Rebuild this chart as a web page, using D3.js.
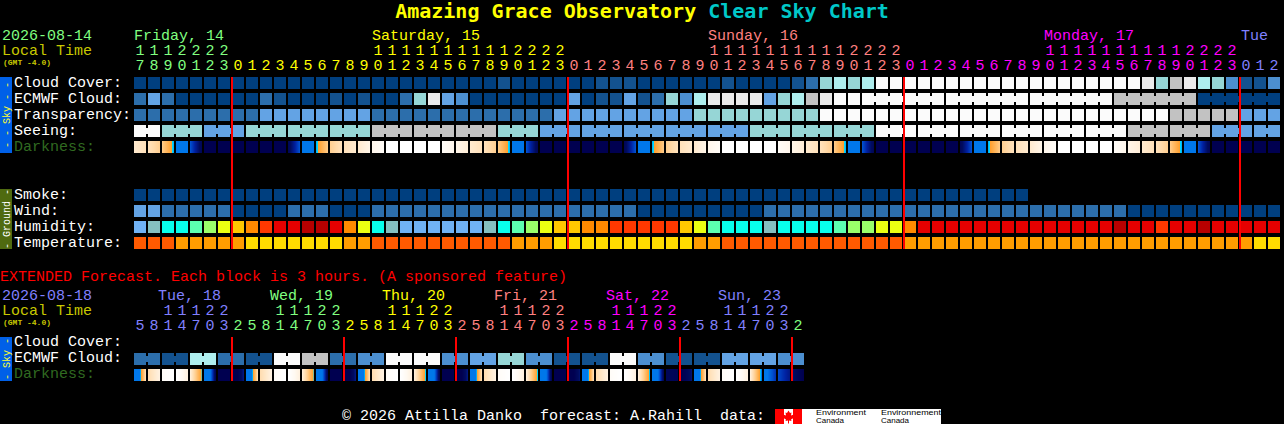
<!DOCTYPE html>
<html>
<head>
<meta charset="utf-8">
<script src="https://cdn.jsdelivr.net/npm/d3@7/dist/d3.min.js"></script>
<style>
html,body{margin:0;padding:0;background:#000;overflow:hidden}
svg{display:block}
text{font-family:"Liberation Mono",monospace;font-size:15px;white-space:pre}
</style>
</head>
<body>
<svg id="chart" width="1284" height="424"></svg>
<script>
// ---- DATA ----
const hourLabels = [17,18,19,20,21,22,23,0,1,2,3,4,5,6,7,8,9,10,11,12,13,14,15,16,17,18,19,20,21,22,23,0,1,2,3,4,5,6,7,8,9,10,11,12,13,14,15,16,17,18,19,20,21,22,23,0,1,2,3,4,5,6,7,8,9,10,11,12,13,14,15,16,17,18,19,20,21,22,23,0,1,2];
const dayLabels = ["Friday, 14","Saturday, 15","Sunday, 16","Monday, 17","Tue"];
const dayLabelCols = [0,17,41,65,79];
const dayStartCols = [0,7,31,55,79];
const dayInks = ["green","yellow","salmon","magenta","violet"];

const rowLabels = ["Cloud Cover:","ECMWF Cloud:","Transparency:","Seeing:","Darkness:"];
const groundLabels = ["Smoke:","Wind:","Humidity:","Temperature:"];

// sky condition class, 0 (best) .. 9 (worst)
const cloudCover = [0,0,0,0,0,0,0,0,0,0,0,0,0,0,0,0,0,0,0,0,0,0,0,0,0,0,1,0,0,0,0,0,0,1,1,1,0,0,0,0,0,0,1,0,0,0,0,1,2,5,6,5,6,9,9,9,9,9,9,9,9,9,9,9,9,9,9,9,9,9,9,9,8,5,7,8,6,5,3,1,1,3];
const ecmwfCloud = [2,4,2,0,0,0,0,0,0,2,1,0,0,0,1,0,1,0,0,2,5,8,4,3,0,0,0,0,0,0,0,4,0,1,1,4,1,2,5,3,6,8,8,8,8,4,5,6,7,8,9,9,9,9,9,9,9,9,9,9,9,9,9,9,9,9,9,9,9,9,7,7,7,7,7,7,0,0,0,0,0,0];
const ecmwfBlockLinks = [52,53,54,55,56,58,59,60,61,62,64,65,66,67,68,70,71,72,73,74,76,77,78,79,80];
const transparency = [2,2,2,2,2,2,2,2,2,4,4,4,4,4,4,4,4,2,2,2,2,2,2,2,2,2,2,2,2,2,4,4,4,4,4,4,4,4,4,4,5,5,5,5,5,5,5,5,5,9,9,9,9,9,9,9,9,9,9,9,9,9,9,9,9,9,9,9,9,9,9,9,9,9,7,7,7,7,7,4,4,4];
const seeingGroupSizes = [2,3,3,3,3,3,3,3,3,3,3,3,3,3,3,3,3,3,3,3,3,3,3,3,3,3,3,2];
const seeingGroupValues = [9,5,4,5,5,5,7,7,7,5,4,4,4,4,4,5,5,5,9,9,9,9,9,9,7,7,4,4];

// darkness: start and end of each block, 0 daylight .. 10 full dark
const darkStart = [1.2,1.6,2.6,5.2,7,10,10,10,10,10,10,9.5,6,4.8,2.4,1.6,1.2,0.5,0,0,0,0,0.2,0.6,1.2,1.6,2.6,5.2,7,10,10,10,10,10,10,9.5,6,4.8,2.4,1.6,1.2,0.5,0,0,0,0,0.2,0.6,1.2,1.6,2.6,5.2,7,10,10,10,10,10,10,9.5,6,4.8,2.4,1.6,1.2,0.5,0,0,0,0,0.2,0.6,1.2,1.6,2.6,5.2,7,10,10,10,10,10];
const darkEnd   = [1.6,2.4,4.8,6,9.5,10,10,10,10,10,10,7,5.2,2.6,1.6,1.2,0.6,0.2,0,0,0,0,0.5,1,1.6,2.4,4.8,6,9.5,10,10,10,10,10,10,7,5.2,2.6,1.6,1.2,0.6,0.2,0,0,0,0,0.5,1,1.6,2.4,4.8,6,9.5,10,10,10,10,10,10,7,5.2,2.6,1.6,1.2,0.6,0.2,0,0,0,0,0.5,1,1.6,2.4,4.8,6,9.5,10,10,10,10,10];

const smoke = [0,0,0,0,0,0,0,0,0,0,0,0,0,0,0,0,0,0,0,0,0,0,0,0,0,0,0,0,0,0,0,0,0,0,0,0,0,0,0,0,0,0,0,0,0,0,0,0,0,0,0,0,0,0,0,0,0,0,0,0,0,0,0,0];
const wind = [4,4,2,2,2,2,2,0,0,0,0,2,2,2,0,0,0,2,2,2,2,2,2,2,2,2,2,2,2,2,2,2,2,2,2,2,0,0,0,0,0,0,0,0,0,2,2,2,2,2,2,2,2,2,2,2,2,2,2,2,2,2,2,2,2,2,2,2,2,2,2,0,0,0,0,0,0,0,0,0,0,0];
const humidity = [0,1,2,2,3,4,5,6,7,8,9,9,10,10,9,7,5,2,1,0,0,0,0,0,0,1,2,3,4,5,6,6,7,7,8,8,8,8,8,6,5,3,2,2,2,1,2,2,2,2,3,4,4,5,5,7,9,9,9,9,9,9,9,9,9,9,9,9,9,9,10,9,9,8,9,9,10,9,9,9,9,9];
const temperature = [0,0,0,1,1,1,1,1,2,2,2,2,2,2,2,1,1,0,0,0,0,0,0,0,0,0,0,1,1,1,2,2,2,2,2,2,2,2,2,2,1,1,0,0,0,0,0,0,0,0,0,0,0,0,0,1,1,1,1,1,1,1,1,1,1,1,1,1,1,1,1,1,1,1,1,1,1,1,1,1,2,2];

// extended forecast
const extDate = "2026-08-18";
const extHours = [5,8,11,14,17,20,23,2,5,8,11,14,17,20,23,2,5,8,11,14,17,20,23,2,5,8,11,14,17,20,23,2,5,8,11,14,17,20,23,2,5,8,11,14,17,20,23,2];
const extDays = ["Tue, 18","Wed, 19","Thu, 20","Fri, 21","Sat, 22","Sun, 23"];
const extDayCols = [2,10,18,26,34,42];
const extDayStarts = [0,7,15,23,31,39,47];
const extDayInks = ["violet","green","yellow","salmon","magenta","violet","green"];
const extRedCols = [7,15,23,31,39,47];
const extRows = ["Cloud Cover:","ECMWF Cloud:","Darkness:"];
const extEcmwfPairs = [2,1,6,2,1,9,7,2,3,9,9,3,4,5,3,1,1,9,3,1,1,4,4,3];
const extDarkStart = [6,1.8,0.2,0,1,6,10,10,6,1.8,0.2,0,1,6,10,10,6,1.8,0.2,0,1,6,10,10,6,1.8,0.2,0,1,6,10,10,6,1.8,0.2,0,1,6,9.5,10,6,1.8,0.2,0,1,5.4,7.2,8.8];
const extDarkMid   = [5.2,1.3,0.1,0.3,2.6,5.8,10,10,5.2,1.3,0.1,0.3,2.6,5.8,10,10,5.2,1.3,0.1,0.3,2.6,5.8,10,10,5.2,1.3,0.1,0.3,2.6,5.8,10,10,5.2,1.3,0.1,0.3,2.6,6,9.5,9.6,5.2,1.3,0.1,0.3,2.8,6.5,7.8,9.5];
const extDarkEnd   = [1.8,0.8,0,0.8,4.5,9.6,10,8.5,1.8,0.8,0,0.8,4.5,9.6,10,8.5,1.8,0.8,0,0.8,4.6,9.6,10,8.5,1.8,0.8,0,0.8,4.6,9.6,10,8.8,1.8,0.8,0,0.8,4.7,9.4,9.6,8.8,1.8,0.8,0,0.8,5.2,7.6,8.4,10];

// ---- SCALES ----
const colStep = 14, blockW = 12, blockH = 12;
const svg = d3.select("#chart");
const x = d3.scaleLinear().domain([0,82]).range([134,134+82*colStep]);
const y = d3.scaleLinear().domain([0,10]).range([77,237]);
const yExt = d3.scaleLinear().domain([0,2]).range([337,369]);
const skyColor = d3.scaleOrdinal().domain(d3.range(10)).range(["#003f7f","#13528f","#2c6eab","#4c8fd0","#63a3e4","#96d6d6","#aeeeee","#c2c2c2","#eaeaea","#fbfbfb"]);
const humColor = d3.scaleOrdinal().domain(d3.range(11)).range(["#70b2f4","#85c0c0","#08ffec","#5cffb0","#9aff6a","#ebff12","#ffc800","#ff8a00","#ff3800","#e60000","#b80000"]);
const tempColor = d3.scaleOrdinal().domain([0,1,2]).range(["#ff5a00","#ff9d00","#ffdc00"]);
const darkColor = d3.scaleLinear()
  .domain([0,1,2,3,4.4,4.6,5.2,6,7,8,9,10])
  .range(["#ffffff","#ffeed8","#ffd9a8","#ffc070","#ffa030","#00d8ff","#0077ea","#0077ea","#0050d0","#0020a0","#000c60","#000050"])
  .clamp(true);
const inkColor = d3.scaleOrdinal()
  .domain(["green","yellow","salmon","magenta","violet"])
  .range(["#80ff80","#ffff00","#ff8080","#ff00ff","#8080ff"]);
const colInk = (starts,inks,i) => inks[d3.bisectRight(starts,i)-1];

const expand = (sizes,vals) => sizes.flatMap((n,k)=>d3.range(n).map(()=>vals[k]));
const seeing = expand(seeingGroupSizes,seeingGroupValues);
const seeingLinks = Array.from(d3.cumsum(seeingGroupSizes)).reduce((acc,end,k)=>{
  d3.range(end-seeingGroupSizes[k],end-1).forEach(i=>acc.push(i)); return acc;},[]);

// ---- DRAW HELPERS ----
function blocks(values,row,color,g=svg,sx=x,sy=y){
  g.append("g").selectAll("rect").data(values).join("rect")
    .attr("x",(d,i)=>sx(i)).attr("y",sy(row)).attr("width",blockW).attr("height",blockH)
    .attr("fill",d=>color(d));
}
function links(cols,values,row,color,sx=x,sy=y){
  svg.append("g").selectAll("rect").data(cols).join("rect")
    .attr("x",i=>sx(i)+blockW).attr("y",sy(row)+3).attr("width",colStep-blockW).attr("height",6)
    .attr("fill",i=>color(values[i]));
}
function dark(starts,mids,ends,row,sx=x,sy=y){
  const g = svg.append("g");
  starts.forEach((s,i)=>{
    const t = d3.scaleLinear().domain([0,(blockW-1)/2,blockW-1]).range([s,mids[i],ends[i]]);
    g.append("g").selectAll("rect").data(d3.range(blockW)).join("rect")
      .attr("x",p=>sx(i)+p).attr("y",sy(row)).attr("width",1).attr("height",blockH)
      .attr("fill",p=>darkColor(t(p)));
  });
}
function label(txt,px,py,fill){
  return svg.append("text").attr("x",px).attr("y",py).attr("fill",fill).text(txt);
}
function sideBar(top,height,color,txt,txtColor){
  svg.append("rect").attr("x",0).attr("y",top).attr("width",12).attr("height",height).attr("fill",color);
  svg.append("text").attr("transform",`translate(9.5,${top+height/2}) rotate(-90)`)
    .attr("text-anchor","middle").attr("fill",txtColor).style("font-size","10px").text(txt);
}
function digits(hours,sx,baseTens,baseUnits,starts,inks){
  const col = i => inkColor(colInk(starts,inks,i));
  svg.append("g").selectAll("text").data(hours).join("text")
    .attr("x",(d,i)=>sx(i)+blockW/2).attr("y",baseUnits).attr("text-anchor","middle")
    .attr("fill",(d,i)=>col(i)).text(d=>d%10);
  svg.append("g").selectAll("text").data(hours.map((h,i)=>({h,i})).filter(d=>d.h>=10)).join("text")
    .attr("x",d=>sx(d.i)+blockW/2).attr("y",baseTens).attr("text-anchor","middle")
    .attr("fill",d=>col(d.i)).text(d=>Math.floor(d.h/10));
}

// ---- TITLE ----
const title = svg.append("text").attr("x",642).attr("y",18).attr("text-anchor","middle")
  .style("font-family","'DejaVu Sans Mono',monospace").style("font-size","20px").style("font-weight","bold");
title.append("tspan").attr("fill","#ffff00").text("Amazing Grace Observatory ");
title.append("tspan").attr("fill","#00c8c8").text("Clear Sky Chart");

// ---- HEADER ----
label("2026-08-14",2,40,"#80ff80");
label("Local Time",2,55,"#c8c800");
label("(GMT -4.0)",3,65,"#c8c800").style("font-size","8px").style("font-weight","bold");
dayLabels.forEach((d,k)=>label(d,x(dayLabelCols[k])+(k===4?1:0),40,inkColor(dayInks[k])));
digits(hourLabels,x,55,70,dayStartCols,dayInks);

// ---- SIDE BARS ----
sideBar(77,76,"#0060e8","- - Sky - -","#ffff30");
sideBar(189,60,"#4f6a10","- Ground -","#ffffff");

// ---- LABELS ----
rowLabels.forEach((l,k)=>label(l,14,y(k)+10,k===4?"#306a20":"#ffffff"));
groundLabels.forEach((l,k)=>label(l,14,y(k+7)+10,"#ffffff"));

// ---- ROWS ----
blocks(cloudCover,0,skyColor);
blocks(ecmwfCloud,1,skyColor);
links(ecmwfBlockLinks,ecmwfCloud,1,skyColor);
blocks(transparency,2,skyColor);
blocks(seeing,3,skyColor);
links(seeingLinks,seeing,3,skyColor);
dark(darkStart,darkStart.map((s,i)=>(s+darkEnd[i])/2),darkEnd,4);
blocks(smoke,7,skyColor);
blocks(wind,8,skyColor);
blocks(humidity,9,humColor);
blocks(temperature,10,tempColor);

// midnight lines
svg.append("g").selectAll("rect").data(dayStartCols.slice(1)).join("rect")
  .attr("x",c=>x(c)-1).attr("y",y(0)).attr("width",2).attr("height",y(10)+blockH-y(0)).attr("fill","#ff0000");

// ---- EXTENDED ----
label("EXTENDED Forecast. Each block is 3 hours. (A sponsored feature)",0,281,"#ff0000");
label(extDate,2,300,"#8080ff");
label("Local Time",2,315,"#c8c800");
label("(GMT -4.0)",3,325,"#c8c800").style("font-size","8px").style("font-weight","bold");
extDays.forEach((d,k)=>label(d,x(extDayCols[k])-4,300,inkColor(extDayInks[k])));
digits(extHours,x,315,330,extDayStarts,extDayInks);
sideBar(337,44,"#0060e8","- Sky -","#ffff30");
extRows.forEach((l,k)=>label(l,14,yExt(k)+9,k===2?"#306a20":"#ffffff"));
const extEcmwf = extEcmwfPairs.flatMap(v=>[v,v]);
blocks(extEcmwf,1,skyColor,svg,x,yExt);
links(d3.range(0,48,2),extEcmwf,1,skyColor,x,yExt);
dark(extDarkStart,extDarkMid,extDarkEnd,2,x,yExt);
svg.append("g").selectAll("rect").data(extRedCols).join("rect")
  .attr("x",c=>x(c)-1).attr("y",yExt(0)).attr("width",2).attr("height",yExt(2)+blockH-yExt(0)).attr("fill","#ff0000");

// ---- FOOTER ----
label("\u00a9 2026 Attilla Danko  forecast: A.Rahill  data:",342,420,"#ffffff");
const logo = svg.append("g");
logo.append("rect").attr("x",775).attr("y",409).attr("width",166).attr("height",15).attr("fill","#ffffff");
logo.append("rect").attr("x",775).attr("y",409).attr("width",9).attr("height",15).attr("fill","#ff0000");
logo.append("rect").attr("x",793).attr("y",409).attr("width",9).attr("height",15).attr("fill","#ff0000");
logo.append("polygon").attr("fill","#ff0000").attr("transform","translate(788.5,416.5)")
  .attr("points","0,-6 1.5,-3.5 3,-4 2.5,-1 5.5,-2 5,0 6,1 2.5,3 3,4.5 0.5,4 0.5,7 -0.5,7 -0.5,4 -3,4.5 -2.5,3 -6,1 -5,0 -5.5,-2 -2.5,-1 -3,-4 -1.5,-3.5");
[["Environment",816,415,50],["Canada",816,422.5,28],["Environnement",881,415,60],["Canada",881,422.5,28]].forEach(([t,px,py,w])=>{
  logo.append("text").attr("x",px).attr("y",py).attr("fill","#000").attr("textLength",w).attr("lengthAdjust","spacingAndGlyphs")
    .style("font-family","'Liberation Sans',sans-serif").style("font-size","7.5px").text(t);
});
</script>
</body>
</html>
